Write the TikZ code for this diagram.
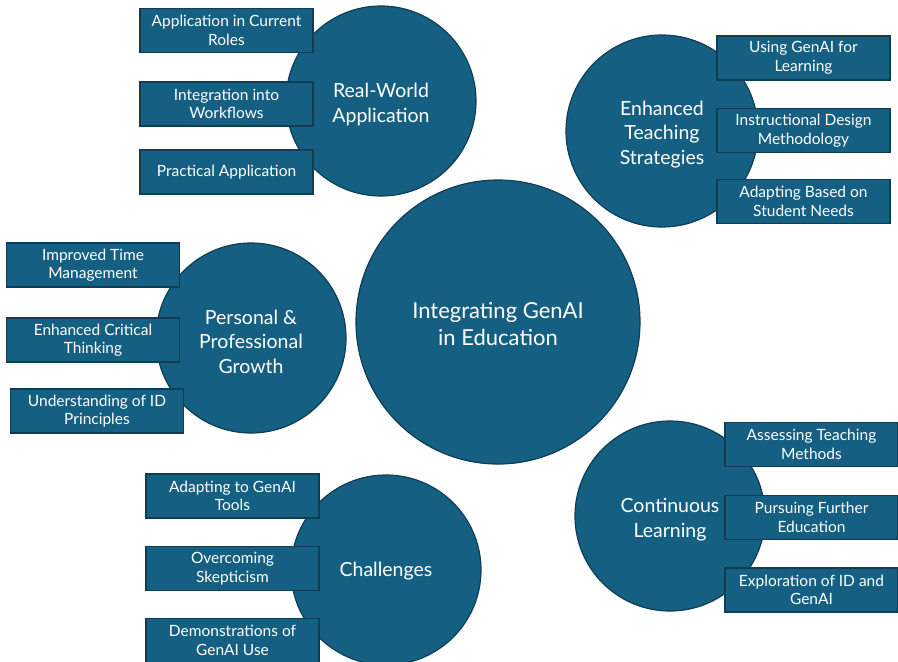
\documentclass[tikz,border=0pt]{standalone}
\usepackage{fontspec}
\setmainfont{Lato}
\definecolor{genblue}{HTML}{156082}
\definecolor{edgeblue}{HTML}{0E3D54}

\begin{document}
\begin{tikzpicture}[x=1pt,y=-1pt,
    hub/.style={circle,draw=edgeblue,line width=1.2pt,fill=genblue,inner sep=0pt},
    hubtext/.style={text=white,align=center,yshift=-3.5pt,
        font=\fontsize{19.5}{24.5}\selectfont},
    leaf/.style={rectangle,draw=edgeblue,line width=1.2pt,fill=genblue,text=white,
        align=center,minimum width=173,minimum height=44,inner sep=1pt,
        font=\fontsize{15.5}{18.5}\selectfont}]
    \useasboundingbox (0,0) rectangle (898,662);
    % the centre and the five themes around it
    \node[hub,minimum size=284,label={[hubtext,yshift=1.5pt,font=\fontsize{22}{27}\selectfont]center:{Integrating GenAI\\in Education}}] (core) at (498,322) {};
    \node[hub,minimum size=190,label={[hubtext]center:{Real-World\\Application}}] (real) at (381,101) {};
    \node[hub,minimum size=192,label={[hubtext]center:{Enhanced\\Teaching\\Strategies}}] (teach) at (662,131) {};
    \node[hub,minimum size=190,label={[hubtext]center:{Personal \&\\Professional\\Growth}}] (growth) at (251,338) {};
    \node[hub,minimum size=190,label={[hubtext]center:{Continuous\\Learning}}] (learn) at (670,516) {};
    \node[hub,minimum size=190,label={[hubtext,yshift=2pt]center:Challenges}] (chall) at (386,570) {};
    % boxes beside each theme
    \foreach \n/\x/\y/\t in {real1/226.5/30.5/{Application in Current\\Roles},
                            real2/226.5/104/{Integration into\\Workflows},
                            real3/226.5/172/{Practical Application},
                            teach1/803.5/58/{Using GenAI for\\Learning},
                            teach2/803.5/130.5/{Instructional Design\\Methodology},
                            teach3/803.5/201.5/{Adapting Based on\\Student Needs},
                            growth1/93/265/{Improved Time\\Management},
                            growth2/93/340/{Enhanced Critical\\Thinking},
                            growth3/97/411/{Understanding of ID\\Principles},
                            learn1/811.5/444.5/{Assessing Teaching\\Methods},
                            learn2/811.5/517.5/{Pursuing Further\\Education},
                            learn3/811.5/590/{Exploration of ID and\\GenAI},
                            chall1/232.5/496/{Adapting to GenAI\\Tools},
                            chall2/232.5/568.5/{Overcoming\\Skepticism},
                            chall3/232.5/640.5/{Demonstrations of\\GenAI Use}}
        \node[leaf] (\n) at (\x,\y) {\t};
\end{tikzpicture}
\end{document}
